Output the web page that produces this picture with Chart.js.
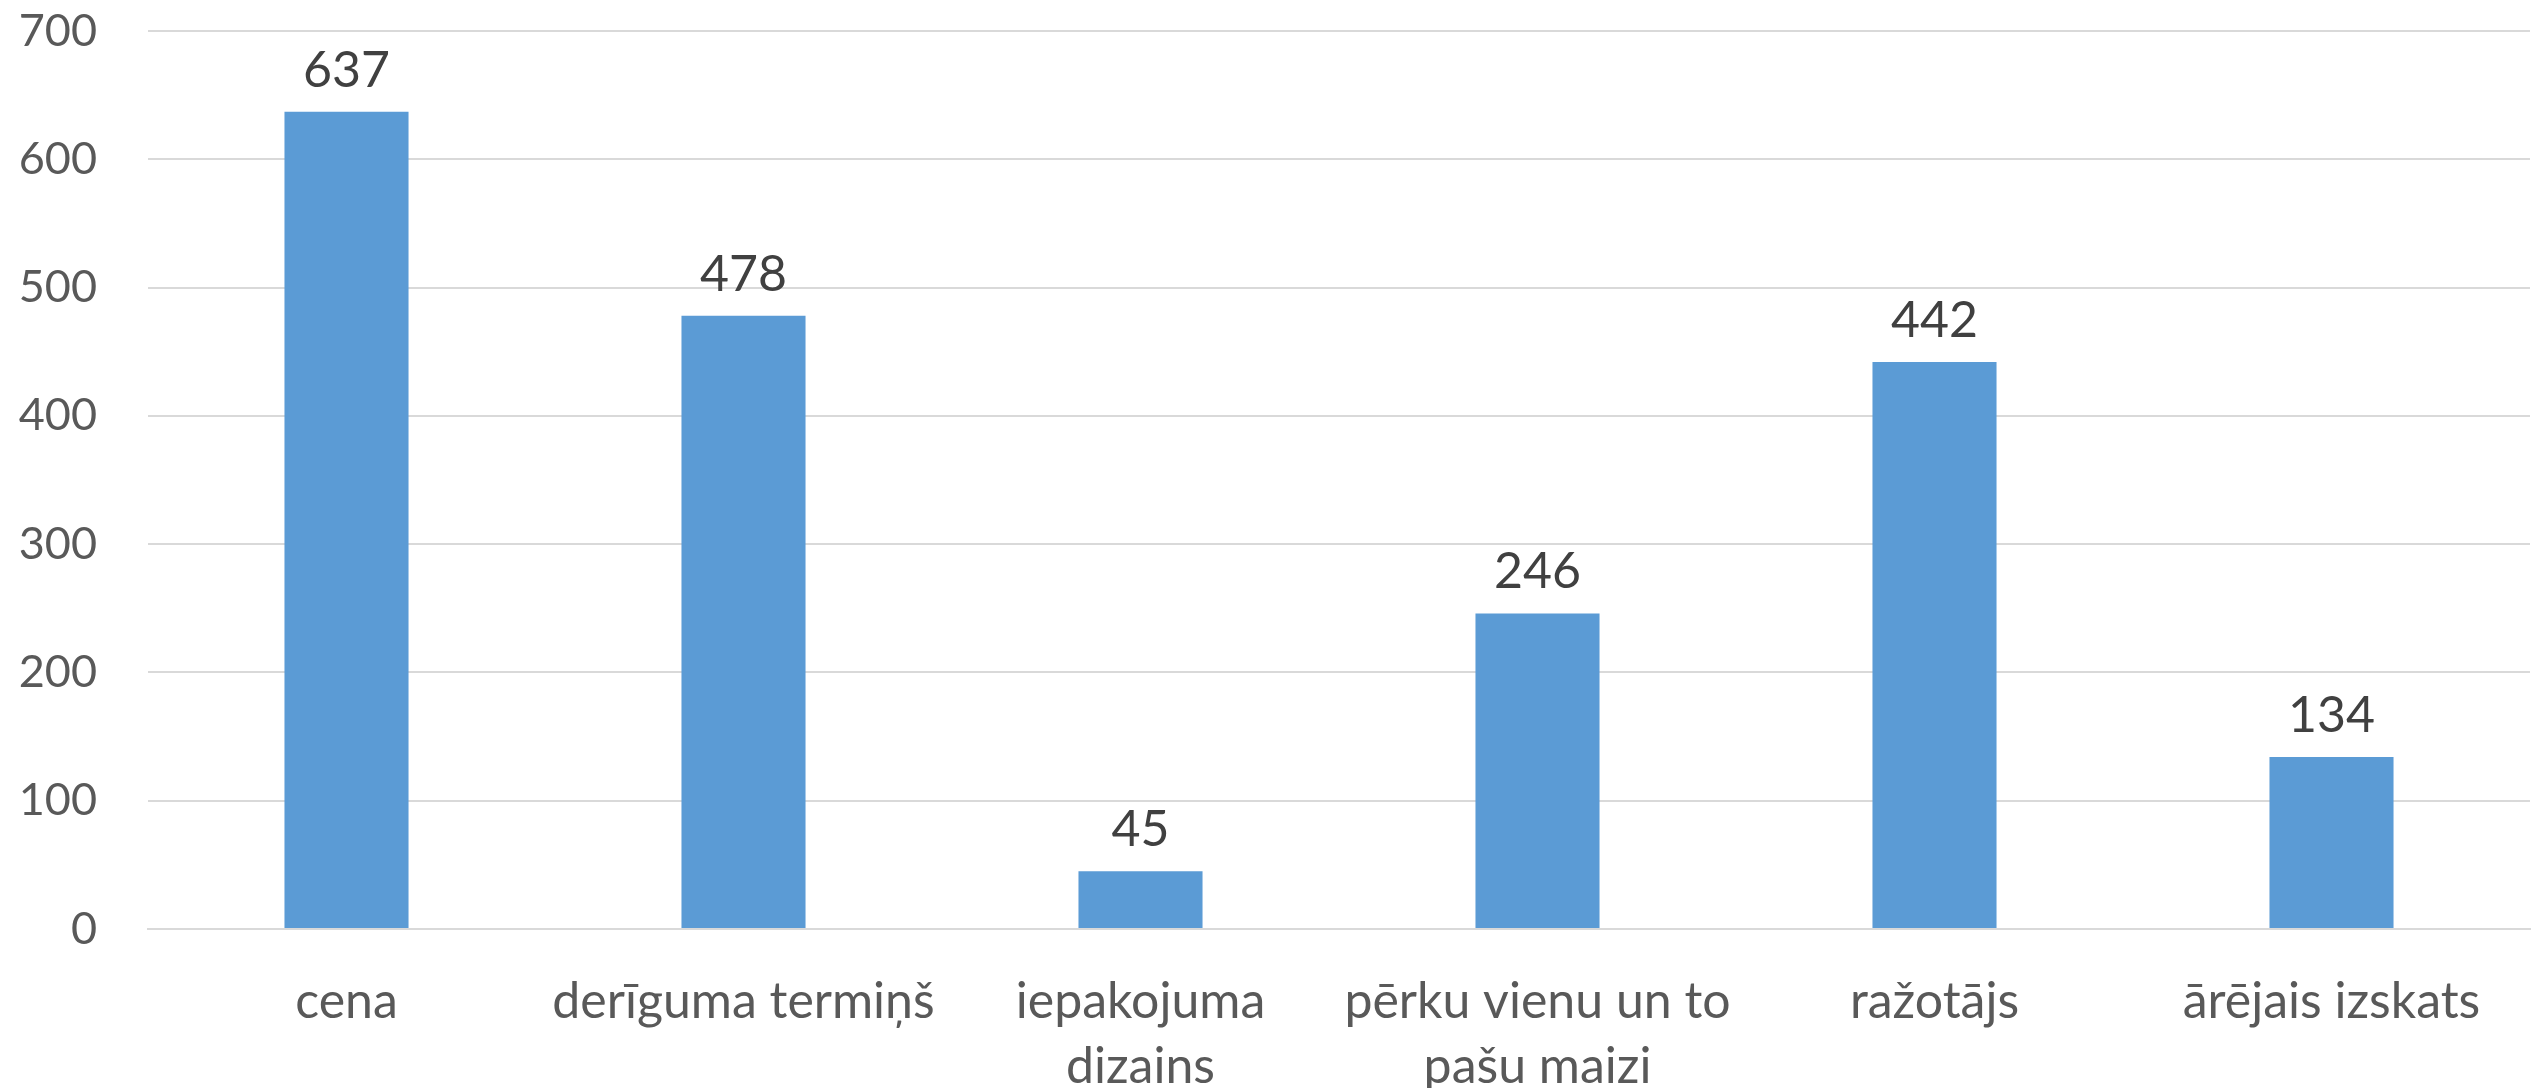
<!DOCTYPE html>
<html>
<head>
<meta charset="utf-8">
<script src="https://cdn.jsdelivr.net/npm/chart.js@4/dist/chart.umd.min.js"></script>
<style>
  html, body { margin: 0; padding: 0; background: #fff; }
  #wrap { width: 2531px; height: 1088px; position: relative; }
</style>
</head>
<body>
<div id="wrap"><canvas id="chart"></canvas></div>
<script>
// data
const categories = [
  "cena",
  "derīguma termiņš",
  ["iepakojuma", "dizains"],
  ["pērku vienu un to", "pašu maizi"],
  "ražotājs",
  "ārējais izskats"
];
const counts = [637, 478, 45, 246, 442, 134];
const yTicks = [0, 100, 200, 300, 400, 500, 600, 700];

const FONT = "Lato, 'Open Sans', sans-serif";

// value labels above each bar
const barLabels = {
  id: "barLabels",
  afterDatasetsDraw(chart) {
    const ctx = chart.ctx;
    const meta = chart.getDatasetMeta(0);
    ctx.save();
    ctx.font = "50px " + FONT;
    ctx.fillStyle = "#404040";
    ctx.textAlign = "center";
    ctx.textBaseline = "alphabetic";
    meta.data.forEach((bar, i) => {
      ctx.fillText(String(counts[i]), bar.x, bar.y - 25);
    });
    ctx.restore();
  }
};

new Chart(document.getElementById("chart"), {
  type: "bar",
  data: {
    labels: categories,
    datasets: [{
      data: counts,
      backgroundColor: "#5B9BD5",
      borderWidth: 0,
      barPercentage: 0.3125,
      categoryPercentage: 1
    }]
  },
  options: {
    responsive: true,
    maintainAspectRatio: false,
    animation: false,
    layout: { padding: { top: 31, right: 1, left: 0, bottom: 0 } },
    plugins: {
      legend: { display: false },
      tooltip: { enabled: false }
    },
    scales: {
      x: {
        grid: { display: false, drawTicks: false },
        border: { color: "#D9D9D9", width: 2 },
        ticks: {
          color: "#595959",
          font: { family: FONT, size: 50, lineHeight: 1.3 },
          padding: 40,
          maxRotation: 0,
          autoSkip: false
        },
        afterFit(scale) { scale.height = 159; }
      },
      y: {
        min: 0,
        max: yTicks[yTicks.length - 1],
        afterBuildTicks(scale) { scale.ticks = yTicks.map(v => ({ value: v })); },
        grid: { color: "#D9D9D9", lineWidth: 2, drawTicks: false },
        border: { display: false },
        ticks: {
          color: "#595959",
          font: { family: FONT, size: 45 },
          padding: 51
        },
        afterFit(scale) {
          scale.width = 148;
          scale.paddingTop = 0;
          scale.paddingBottom = 0;
        }
      }
    }
  },
  plugins: [barLabels]
});
</script>
</body>
</html>
